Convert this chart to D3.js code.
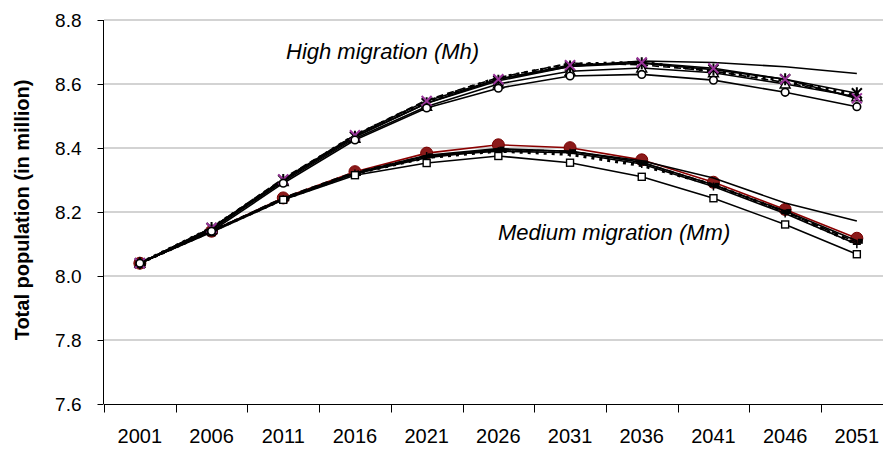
<!DOCTYPE html>
<html>
<head>
<meta charset="utf-8">
<script src="https://cdn.jsdelivr.net/npm/d3@7"></script>
<style>
  body { margin: 0; background: #fff; }
  text { font-family: "Liberation Sans", Arial, sans-serif; }
</style>
</head>
<body>
<div id="chart"></div>
<script>
let width = 883,
    height = 450;

const years = ["2001", "2006", "2011", "2016", "2021", "2026", "2031", "2036", "2041", "2046", "2051"];
const yTicks = [7.6, 7.8, 8.0, 8.2, 8.4, 8.6, 8.8];

// high migration (Mh) variants
const mhPlain    = [8.04, 8.145, 8.300, 8.435, 8.540, 8.615, 8.655, 8.672, 8.667, 8.654, 8.633];
const mhCross    = [8.04, 8.150, 8.302, 8.440, 8.547, 8.615, 8.659, 8.667, 8.649, 8.615, 8.555];
const mhStar     = [8.04, 8.150, 8.300, 8.435, 8.540, 8.610, 8.655, 8.665, 8.645, 8.615, 8.571];
const mhCircle   = [8.04, 8.140, 8.290, 8.425, 8.525, 8.587, 8.625, 8.630, 8.612, 8.574, 8.529];
const mhDotted   = [8.04, 8.150, 8.300, 8.440, 8.545, 8.620, 8.662, 8.668, 8.640, 8.610, 8.565];
const mhDashed   = [8.04, 8.150, 8.305, 8.440, 8.550, 8.620, 8.665, 8.660, 8.640, 8.605, 8.560];
const mhTriangle = [8.04, 8.145, 8.295, 8.430, 8.530, 8.600, 8.640, 8.650, 8.635, 8.600, 8.560];

// medium migration (Mm) variants
const mmPlain    = [8.04, 8.140, 8.240, 8.320, 8.370, 8.395, 8.390, 8.360, 8.306, 8.228, 8.172];
const mmSquare   = [8.04, 8.137, 8.238, 8.315, 8.353, 8.375, 8.354, 8.310, 8.243, 8.161, 8.068];
const mmPlus     = [8.04, 8.140, 8.240, 8.320, 8.375, 8.390, 8.385, 8.350, 8.280, 8.195, 8.099];
const mmDotted   = [8.04, 8.140, 8.240, 8.320, 8.370, 8.390, 8.380, 8.345, 8.285, 8.200, 8.100];
const mmDashed   = [8.04, 8.140, 8.245, 8.325, 8.375, 8.395, 8.390, 8.355, 8.285, 8.200, 8.105];
const mmBlock    = [8.04, 8.140, 8.243, 8.322, 8.377, 8.398, 8.390, 8.355, 8.285, 8.203, 8.110];
const mmRed      = [8.04, 8.140, 8.244, 8.326, 8.384, 8.410, 8.401, 8.363, 8.293, 8.208, 8.118];

const svg = d3.select("#chart")
      .append("svg")
      .attr("width", width)
      .attr("height", height);

const x = d3.scaleBand()
  .domain(years)
  .range([104, 104 + 11 * 71.7]);

const y = d3.scaleLinear()
  .domain([7.6, 8.8])
  .range([404, 20]);

const cx = d => x(d) + x.bandwidth() / 2;

// gridlines
svg.selectAll(".grid")
  .data(yTicks.filter(d => d > 7.6))
  .enter().append("line")
  .attr("x1", 104).attr("x2", width)
  .attr("y1", d => y(d)).attr("y2", d => y(d))
  .style("stroke", "#c4c4c4")
  .style("stroke-width", 1.6);

// y axis
const yAxis = svg.append("g")
  .attr("transform", "translate(103.5,0)")
  .call(d3.axisLeft(y).tickValues(yTicks).tickFormat(d3.format(".1f")).tickSize(6).tickPadding(16));
yAxis.select(".domain").attr("d", "M0," + y(8.8) + "V" + y(7.6));
yAxis.selectAll("text").style("font-size", "19px").style("fill", "#000");
yAxis.selectAll("line, path").style("stroke", "#000");

// x axis: labels at band centres, tick marks on band edges
const xAxis = svg.append("g")
  .attr("transform", "translate(0," + (y(7.6) + 0.5) + ")")
  .call(d3.axisBottom(x).tickSize(0).tickPadding(24));
xAxis.select(".domain").attr("d", "M104,0H" + width);
xAxis.selectAll("text").style("font-size", "20px").style("fill", "#000");
xAxis.selectAll("path").style("stroke", "#000");

xAxis.selectAll(".edge")
  .data(years)
  .enter().append("line")
  .attr("x1", d => Math.round(x(d)) + 0.5).attr("x2", d => Math.round(x(d)) + 0.5)
  .attr("y1", 0).attr("y2", 8)
  .style("stroke", "#000");

svg.append("text")
  .attr("transform", "translate(29,210) rotate(-90)")
  .attr("text-anchor", "middle")
  .style("font-size", "20px")
  .style("font-weight", "bold")
  .text("Total population (in million)");

const line = d3.line()
  .x((d, i) => cx(years[i]))
  .y(d => y(d));

// drawing order: red medium series at the back, high series on top
const series = [
  {values: mmRed,      dash: null, marker: "dot", color: "#8b0000"},
  {values: mmPlain,    dash: null},
  {values: mmDotted,   dash: "3,5", width: 3},
  {values: mmDashed,   dash: "7,4"},
  {values: mmBlock,    dash: null, marker: "block"},
  {values: mmPlus,     dash: null, marker: "plus"},
  {values: mmSquare,   dash: null, marker: "square"},
  {values: mhPlain,    dash: null},
  {values: mhTriangle, dash: null, marker: "triangle"},
  {values: mhDashed,   dash: "7,4"},
  {values: mhDotted,   dash: "3,5", width: 3},
  {values: mhStar,     dash: null, marker: "star"},
  {values: mhCross,    dash: null, marker: "cross"},
  {values: mhCircle,   dash: null, marker: "circle"}
];

series.forEach(function (s) {
  svg.append("path")
    .datum(s.values)
    .attr("d", line)
    .style("fill", "none")
    .style("stroke", s.color || "#000")
    .style("stroke-width", s.width || 1.6)
    .style("stroke-dasharray", s.dash);

  if (!s.marker) return;
  let g = svg.append("g");
  let pts = g.selectAll("g")
    .data(s.values)
    .enter().append("g")
    .attr("transform", (d, i) => "translate(" + cx(years[i]) + "," + y(d) + ")");

  switch (s.marker) {
    case "circle":
      pts.append("circle").attr("r", 3.8)
        .style("fill", "#fff").style("stroke", "#000").style("stroke-width", 1.6);
      break;
    case "square":
      pts.append("rect").attr("x", -3.5).attr("y", -3.5).attr("width", 7).attr("height", 7)
        .style("fill", "#fff").style("stroke", "#000").style("stroke-width", 1.4);
      break;
    case "triangle":
      pts.append("path").attr("d", "M0,-5L5,4H-5Z")
        .style("fill", "#fff").style("stroke", "#000").style("stroke-width", 1.4);
      break;
    case "block":
      pts.append("rect").attr("x", 1).attr("y", -2).attr("width", 5).attr("height", 5)
        .style("fill", "#000");
      break;
    case "plus":
      pts.append("path").attr("d", "M-4,0H4M0,-4V4")
        .style("stroke", "#000").style("stroke-width", 1.5);
      break;
    case "star":
      pts.append("path").attr("d", "M-5,-5L5,5M-5,5L5,-5M0,-6V6")
        .style("stroke", "#000").style("stroke-width", 2);
      break;
    case "cross":
      pts.append("path").attr("d", "M-5,-5L5,5M-5,5L5,-5")
        .style("stroke", "#993399").style("stroke-width", 2);
      break;
    case "dot":
      pts.append("circle").attr("r", 6)
        .style("fill", "#8b1a1a").style("stroke", "#7a0000");
      break;
  }
});

svg.append("text")
  .attr("x", 286).attr("y", 59)
  .style("font-size", "22px")
  .style("font-style", "italic")
  .text("High migration (Mh)");

svg.append("text")
  .attr("x", 498).attr("y", 240)
  .style("font-size", "22px")
  .style("font-style", "italic")
  .text("Medium migration (Mm)");
</script>
</body>
</html>
